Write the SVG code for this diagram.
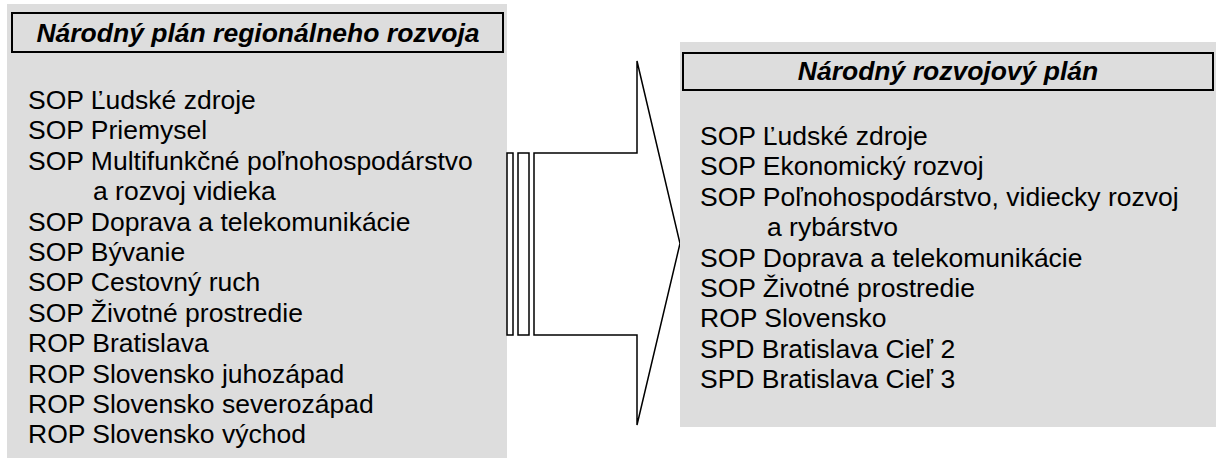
<svg xmlns="http://www.w3.org/2000/svg" width="1216" height="459" viewBox="0 0 1216 459">
<style>
.panel{fill:#dddddd;stroke:none}
.tbox{fill:none;stroke:#000;stroke-width:2}
.title{font-family:"Liberation Sans",Arial,sans-serif;font-size:26.5px;font-weight:bold;font-style:italic;fill:#000;text-anchor:middle}
.item{font-family:"Liberation Sans",Arial,sans-serif;font-size:26.5px;fill:#000}
.shape{fill:#fff;stroke:#000;stroke-width:1.5}
</style>
<rect width="1216" height="459" fill="#fff"/>
<g id="left-panel">
<rect class="panel" x="7" y="4" width="500" height="454"/>
<rect class="tbox" x="12" y="13" width="491" height="39"/>
<text class="title" x="258" y="42">Národný plán regionálneho rozvoja</text>
<text class="item" x="28" y="109">SOP Ľudské zdroje</text>
<text class="item" x="28" y="139.4">SOP Priemysel</text>
<text class="item" x="28" y="169.8">SOP Multifunkčné poľnohospodárstvo</text>
<text class="item" x="93" y="200.2">a rozvoj vidieka</text>
<text class="item" x="28" y="230.6">SOP Doprava a telekomunikácie</text>
<text class="item" x="28" y="261">SOP Bývanie</text>
<text class="item" x="28" y="291.4">SOP Cestovný ruch</text>
<text class="item" x="28" y="321.8">SOP Životné prostredie</text>
<text class="item" x="28" y="352.2">ROP Bratislava</text>
<text class="item" x="28" y="382.6">ROP Slovensko juhozápad</text>
<text class="item" x="28" y="413">ROP Slovensko severozápad</text>
<text class="item" x="28" y="443.4">ROP Slovensko východ</text>
</g>
<g id="connectors">
<rect class="shape" x="507" y="153" width="6" height="182"/>
<rect class="shape" x="518" y="153" width="11" height="182"/>
<polygon class="shape" points="534,153 637,153 637,61 680,243.5 637,425 637,335 534,335"/>
</g>
<g id="right-panel">
<rect class="panel" x="680" y="42" width="536" height="385"/>
<rect class="tbox" x="683" y="53" width="530" height="37"/>
<text class="title" x="948" y="80">Národný rozvojový plán</text>
<text class="item" x="700" y="145">SOP Ľudské zdroje</text>
<text class="item" x="700" y="175.4">SOP Ekonomický rozvoj</text>
<text class="item" x="700" y="205.8">SOP Poľnohospodárstvo, vidiecky rozvoj</text>
<text class="item" x="767" y="236.2">a rybárstvo</text>
<text class="item" x="700" y="266.6">SOP Doprava a telekomunikácie</text>
<text class="item" x="700" y="297">SOP Životné prostredie</text>
<text class="item" x="700" y="327.4">ROP Slovensko</text>
<text class="item" x="700" y="357.8">SPD Bratislava Cieľ 2</text>
<text class="item" x="700" y="388.2">SPD Bratislava Cieľ 3</text>
</g>
</svg>
